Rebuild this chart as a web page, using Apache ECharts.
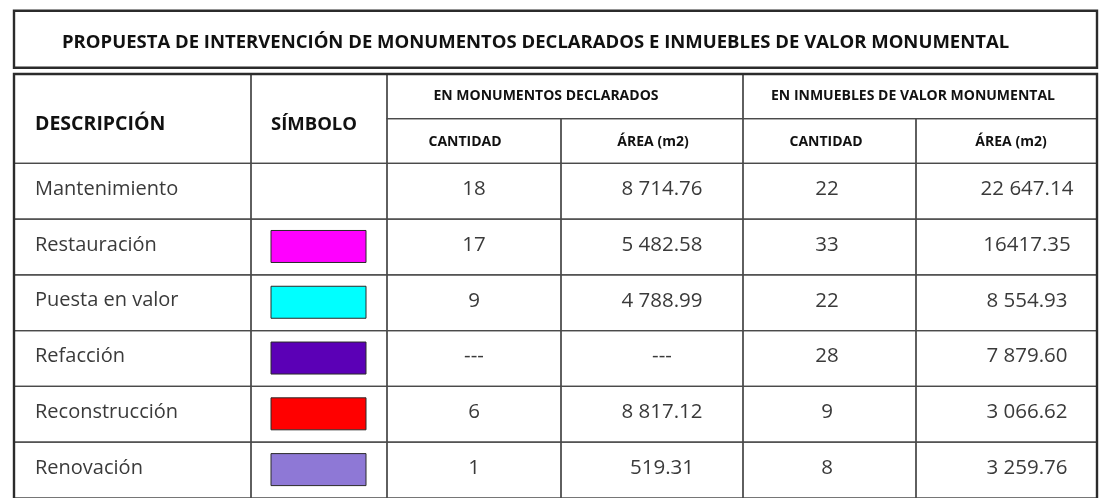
<!DOCTYPE html>
<html>
<head>
<meta charset="utf-8">
<script src="https://cdn.jsdelivr.net/npm/echarts@6/dist/echarts.min.js"></script>
<style>
  html, body { margin: 0; padding: 0; background: #ffffff; }
  #chart { width: 1099px; height: 498px; }
</style>
</head>
<body>
<div id="chart"></div>
<script>
// ---------- DATA ----------
const titleText = 'PROPUESTA DE INTERVENCIÓN DE MONUMENTOS DECLARADOS E INMUEBLES DE VALOR MONUMENTAL';
const mainHeaders = ['DESCRIPCIÓN', 'SÍMBOLO'];
const groupHeaders = ['EN MONUMENTOS DECLARADOS', 'EN INMUEBLES DE VALOR MONUMENTAL'];
const subHeaders = ['CANTIDAD', 'ÁREA (m2)', 'CANTIDAD', 'ÁREA (m2)'];
const descriptions = ['Mantenimiento', 'Restauración', 'Puesta en valor', 'Refacción', 'Reconstrucción', 'Renovación'];
const symbolColors = [null, '#FF00FF', '#00FFFF', '#5B00B6', '#FF0000', '#8E78D6'];
const declCantidad = ['18', '17', '9', '---', '6', '1'];
const declArea = ['8 714.76', '5 482.58', '4 788.99', '---', '8 817.12', '519.31'];
const inmCantidad = ['22', '33', '22', '28', '9', '8'];
const inmArea = ['22 647.14', '16417.35', '8 554.93', '7 879.60', '3 066.62', '3 259.76'];

// ---------- LAYOUT (table units along the x axis) ----------
const COL_EDGES = [0, 237, 373, 547, 729, 902, 1083];
const TABLE_W = 1083;
const DESC_PAD = 21;
const SYMBOL_CX = 304.5;
const SWATCH_W = 95, SWATCH_H = 32;
const BODY_TEXT_X = [460, 648, 813, 1013];  // centers for the 4 value columns
const HEADER_MAIN_X = [21, 300];
const GROUP_CX = [532, 899];
const SUB_CX = [451, 639, 812, 997];

const LINE_COLOR = '#4a4a4a';
const LINE_W = 1.3;
const DATA_FONT = '"Open Sans", "DejaVu Sans", sans-serif';
const HEAD_FONT = '"Open Sans", "DejaVu Sans", sans-serif';

const valueCols = [declCantidad, declArea, inmCantidad, inmArea];

// header cells: [colStart, colEnd, rowStart, rowEnd]
const headerCells = [];
mainHeaders.forEach((t, k) => headerCells.push({ v: [COL_EDGES[k], COL_EDGES[k + 1], 0, 2], text: t, x: HEADER_MAIN_X[k], align: k === 0 ? 'left' : 'center', size: k === 0 ? 19.5 : 18.5, dy: 6 }));
groupHeaders.forEach((t, k) => headerCells.push({ v: [COL_EDGES[2 + 2 * k], COL_EDGES[4 + 2 * k], 0, 1], text: t, x: GROUP_CX[k], align: 'center', size: 14, dy: 0 }));
subHeaders.forEach((t, k) => headerCells.push({ v: [COL_EDGES[2 + k], COL_EDGES[3 + k], 1, 2], text: t, x: SUB_CX[k], align: 'center', size: 14, dy: 1 }));

function headerItem(params, api) {
  const cell = headerCells[params.dataIndex];
  const p0 = api.coord([api.value(0), api.value(2)]);
  const p1 = api.coord([api.value(1), api.value(3)]);
  const yTop = Math.min(p0[1], p1[1]), yBot = Math.max(p0[1], p1[1]);
  const tx = api.coord([cell.x, 0])[0];
  return {
    type: 'group',
    children: [
      { type: 'rect', shape: { x: p0[0], y: yTop, width: p1[0] - p0[0], height: yBot - yTop },
        style: { fill: 'none', stroke: LINE_COLOR, lineWidth: LINE_W } },
      { type: 'text', x: tx, y: (yTop + yBot) / 2 + cell.dy,
        style: { text: cell.text, fill: '#111', fontSize: cell.size, fontWeight: 'bold', fontFamily: HEAD_FONT,
                 align: cell.align, verticalAlign: 'middle' } }
    ]
  };
}

function bodyItem(params, api) {
  const i = params.dataIndex;
  const c = api.coord([0, api.value(1)]);
  const bandH = api.size([0, 1])[1];
  const yTop = c[1] - bandH / 2;
  const yMid = c[1] - 2;
  const X = v => api.coord([v, api.value(1)])[0];
  const children = [];
  for (let k = 0; k < COL_EDGES.length - 1; k++) {
    const x0 = X(COL_EDGES[k]), x1 = X(COL_EDGES[k + 1]);
    children.push({ type: 'rect', shape: { x: x0, y: yTop, width: x1 - x0, height: bandH },
      style: { fill: 'none', stroke: LINE_COLOR, lineWidth: LINE_W } });
  }
  children.push({ type: 'text', x: X(DESC_PAD), y: yMid,
    style: { text: descriptions[i], fill: '#3a3a3a', fontSize: 20, fontWeight: 'normal', fontFamily: DATA_FONT,
             align: 'left', verticalAlign: 'middle' } });
  if (symbolColors[i]) {
    const sx = X(SYMBOL_CX);
    children.push({ type: 'rect', shape: { x: sx - SWATCH_W / 2, y: c[1] - SWATCH_H / 2 - 0.5, width: SWATCH_W, height: SWATCH_H },
      style: { fill: symbolColors[i], stroke: '#2a2a2a', lineWidth: 1 } });
  }
  valueCols.forEach((col, k) => {
    children.push({ type: 'text', x: X(BODY_TEXT_X[k]), y: yMid,
      style: { text: col[i], fill: '#3a3a3a', fontSize: 20.5, fontWeight: 'normal', fontFamily: DATA_FONT,
               align: 'center', verticalAlign: 'middle' } });
  });
  return { type: 'group', children };
}

const chart = echarts.init(document.getElementById('chart'), null, { renderer: 'canvas' });
chart.setOption({
  animation: false,
  backgroundColor: '#ffffff',
  grid: [
    { left: 14, top: 74, width: TABLE_W, height: 89.3 },
    { left: 14, top: 163.3, width: TABLE_W, height: 339 }
  ],
  xAxis: [
    { type: 'value', gridIndex: 0, min: 0, max: TABLE_W, show: false },
    { type: 'value', gridIndex: 1, min: 0, max: TABLE_W, show: false }
  ],
  yAxis: [
    { type: 'value', gridIndex: 0, min: 0, max: 2, inverse: true, show: false },
    { type: 'category', gridIndex: 1, data: descriptions, inverse: true, show: false }
  ],
  series: [
    { type: 'custom', xAxisIndex: 0, yAxisIndex: 0, renderItem: headerItem, clip: false,
      encode: { x: [0, 1], y: [2, 3] }, data: headerCells.map(c => c.v), silent: true },
    { type: 'custom', xAxisIndex: 1, yAxisIndex: 1, renderItem: bodyItem, clip: false,
      encode: { x: 0, y: 1 }, data: descriptions.map((d, i) => [0, i]), silent: true }
  ],
  graphic: [
    { type: 'rect', z: 100, shape: { x: 14, y: 10.7, width: TABLE_W, height: 57 },
      style: { fill: 'none', stroke: '#2b2b2b', lineWidth: 2.4 } },
    { type: 'text', z: 100, x: 62, y: 43,
      style: { text: titleText, fill: '#111', fontSize: 18.5, fontWeight: 'bold', fontFamily: HEAD_FONT,
               verticalAlign: 'middle', align: 'left' } },
    { type: 'rect', z: 100, shape: { x: 14, y: 74, width: TABLE_W, height: 460 },
      style: { fill: 'none', stroke: '#2b2b2b', lineWidth: 2.4 } }
  ]
});
</script>
</body>
</html>
